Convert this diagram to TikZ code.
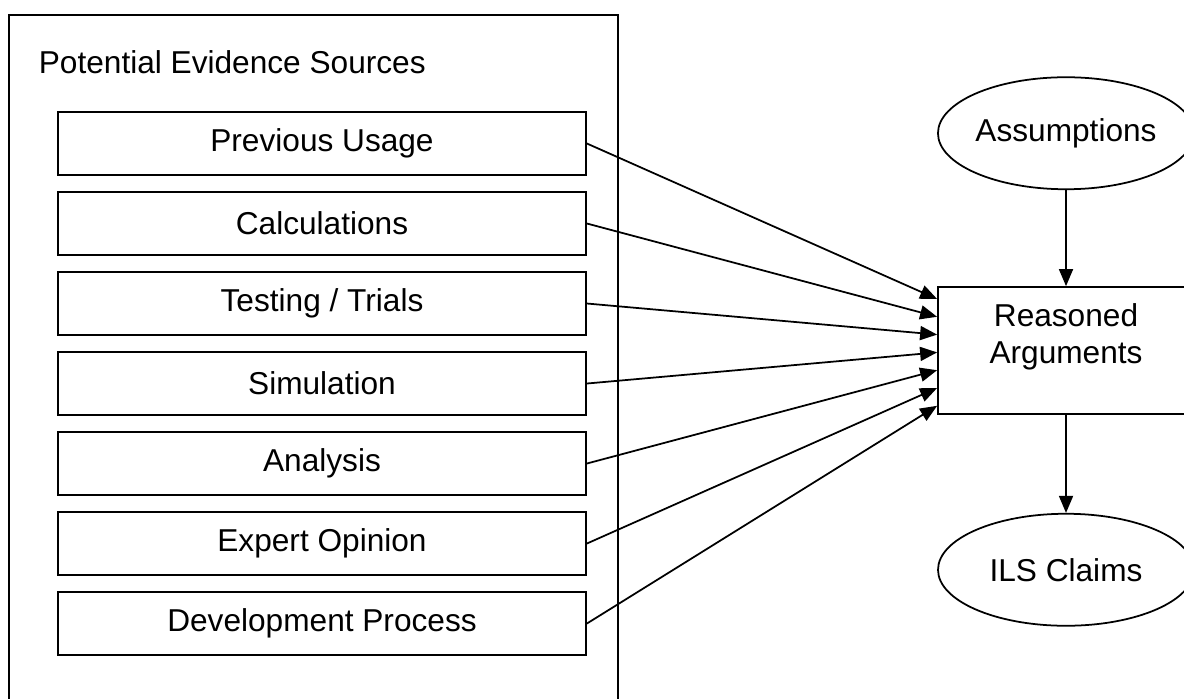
\documentclass[tikz,border=0pt]{standalone}
\usepackage{fontspec}
\setmainfont{Liberation Sans}
\usetikzlibrary{calc,positioning,arrows.meta,shapes.geometric}

\begin{document}
\begin{tikzpicture}[
  line width=1pt,
  every node/.style={font=\fontsize{18}{21}\selectfont},
  srcbox/.style={draw, rectangle, minimum width=10.56cm, minimum height=1.26cm, inner sep=0pt},
  claimell/.style={draw, ellipse, minimum width=5.12cm, minimum height=2.24cm, inner sep=0pt},
  arr/.style={-{Triangle[length=0.34cm,width=0.28cm]}}
]
  \clip (0,0) rectangle (23.68,13.96);
  % outer frame
  \draw (0.18,-1) rectangle (12.36,13.66);
  \node[anchor=west, inner sep=0pt] (title) at (0.76,12.72) {Potential Evidence Sources};
  % sources
  \node[srcbox] (s1) at (6.44,11.09) {Previous Usage};
  \node[srcbox, below=0.305cm of s1] (s2) {Calculations};
  \node[srcbox, below=0.305cm of s2] (s3) {Testing / Trials};
  \node[srcbox, below=0.305cm of s3] (s4) {Simulation};
  \node[srcbox, below=0.305cm of s4] (s5) {Analysis};
  \node[srcbox, below=0.305cm of s5] (s6) {Expert Opinion};
  \node[srcbox, below=0.305cm of s6] (s7) {Development Process};
  % argument and claims
  \node[draw, minimum width=5.12cm, minimum height=2.54cm, align=center, text depth=0.69cm, inner sep=0pt] (rsn) at (21.32,6.95) {Reasoned\\Arguments};
  \node[claimell, above=1.92cm of rsn] (asm) {Assumptions};
  \node[claimell, below=1.96cm of rsn] (ils) {ILS Claims};
  \draw[arr] (asm) -- (rsn);
  \draw[arr] (rsn) -- (ils);
  \foreach \i in {1,...,7}
    \draw[arr] (s\i.east) -- ($(rsn.west)+(0,{1.03-0.356*(\i-1)})$);
\end{tikzpicture}
\end{document}
